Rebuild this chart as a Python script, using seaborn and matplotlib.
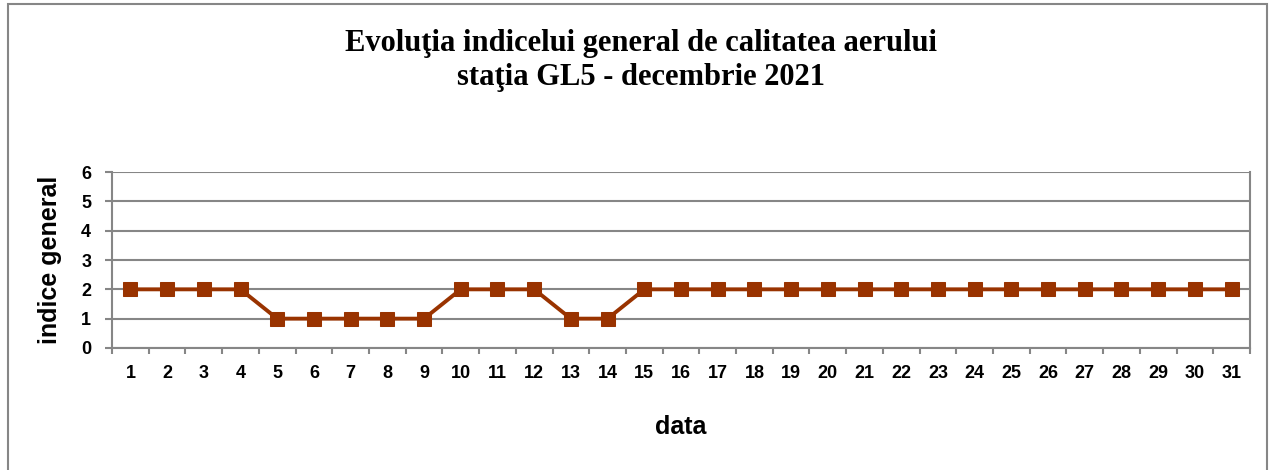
import numpy as np
import pandas as pd
import matplotlib
matplotlib.use("Agg")
import matplotlib.pyplot as plt
import seaborn as sns
from matplotlib.patches import Rectangle

# Daily values, December 2021
days = list(range(1, 32))
indice = [2, 2, 2, 2, 1, 1, 1, 1, 1, 2, 2, 2, 1, 1, 2, 2, 2, 2, 2, 2,
          2, 2, 2, 2, 2, 2, 2, 2, 2, 2, 2]

df = pd.DataFrame({"data": days, "indice": indice})

sns.set_style("white")
plt.rcParams["font.family"] = ["Liberation Sans", "DejaVu Sans"]
plt.rcParams["text.color"] = "black"
plt.rcParams["xtick.color"] = "black"
plt.rcParams["ytick.color"] = "black"
plt.rcParams["axes.labelcolor"] = "black"

fig = plt.figure(figsize=(12.69, 4.70), dpi=100)
ax = fig.add_axes([0.0883, 0.2596, 0.8967, 0.3744])

grey = "#868686"
line_color = "#993300"

sns.lineplot(data=df, x="data", y="indice", ax=ax, color=line_color,
             linewidth=2.8, marker="s", markersize=10.5,
             markeredgecolor=line_color, markerfacecolor=line_color)

ax.set_xlim(0.5, 31.5)
ax.set_ylim(0, 6)
ax.set_xticks(days)
ax.set_xticklabels([str(d) for d in days])
ax.set_xticks(np.arange(0.5, 32, 1), minor=True)
ax.set_yticks(range(0, 7))

ax.yaxis.grid(True, color=grey, linewidth=1.5)
ax.xaxis.grid(False)
ax.set_axisbelow(True)

for side in ["left", "right", "bottom"]:
    ax.spines[side].set_color(grey)
    ax.spines[side].set_linewidth(1.5)
ax.spines["top"].set_visible(False)

ax.tick_params(axis="x", which="major", length=0, pad=12)
ax.tick_params(axis="x", which="minor", length=4, width=1.5, color=grey, bottom=True)
ax.tick_params(axis="y", which="major", length=5, width=1.5, color=grey, left=True, pad=10)

for lab in ax.get_xticklabels() + ax.get_yticklabels():
    lab.set_fontsize(13)
    lab.set_fontweight("bold")

ax.set_xlabel("data", fontsize=18, fontweight="bold", labelpad=24)
ax.set_ylabel("indice general", fontsize=18, fontweight="bold", labelpad=14)

fig.text(0.505, 0.872, "Evoluţia indicelui general de calitatea aerului\nstaţia GL5 - decembrie 2021",
         ha="center", va="center", fontsize=22, fontweight="bold",
         family=["Liberation Serif", "DejaVu Serif"], linespacing=1.22)

# outer chart border
fig.add_artist(Rectangle((8 / 1269, -0.05), 1259 / 1269, 1.05 - 4 / 470,
                         transform=fig.transFigure, fill=False,
                         edgecolor=grey, linewidth=1.5))

fig.savefig("out.png", dpi=100)
